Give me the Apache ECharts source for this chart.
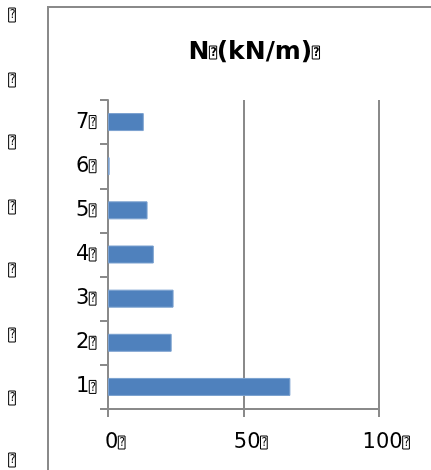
<!DOCTYPE html>
<html>
<head>
<meta charset="utf-8">
<script src="https://cdn.jsdelivr.net/npm/echarts@6/dist/echarts.min.js"></script>
<style>
  html, body { margin: 0; padding: 0; background: #fff; }
  #main { width: 431px; height: 470px; }
</style>
</head>
<body>
<div id="main"></div>
<script>
// data
var categories = ['1', '2', '3', '4', '5', '6', '7'];
var values = [67.3, 23.5, 24.2, 16.9, 14.6, 0.6, 13.2];
var xTicks = [0, 50, 100];
var boxRows = [15, 80, 142, 207, 270, 335, 398, 460];

var myChart = echarts.init(document.getElementById('main'));
var gray = '#8a8a8a';
var font = 'DejaVu Sans';
var qBox = {
    fontSize: 12,
    lineHeight: 13,
    fontFamily: 'DejaVu Sans Condensed',
    color: '#000',
    borderColor: '#000',
    borderWidth: 1,
    padding: [1, 0, 0, 1],
    verticalAlign: 'middle'
};

var graphics = [{
    type: 'rect',
    shape: { x: 48, y: 7, width: 500, height: 500 },
    style: { fill: 'none', stroke: gray, lineWidth: 2 },
    z: 0
}];
boxRows.forEach(function (y) {
    graphics.push({
        type: 'text',
        x: 12,
        y: y,
        style: {
            text: '?',
            font: '12px DejaVu Sans Condensed',
            lineHeight: 13,
            fill: '#000',
            align: 'center',
            verticalAlign: 'middle',
            borderColor: '#000',
            borderWidth: 1,
            padding: [1, 0, 0, 1]
        }
    });
});

var option = {
    backgroundColor: '#fff',
    title: {
        text: '{t|N}{q|?}{t|(kN/m)}{q|?}',
        left: 249,
        top: 35,
        textAlign: 'center',
        textStyle: {
            rich: {
                t: { fontSize: 25, fontWeight: 'bold', fontFamily: font, color: '#000' },
                q: qBox
            }
        }
    },
    graphic: graphics,
    grid: { left: 108, top: 100, right: 52, bottom: 61 },
    xAxis: {
        type: 'value',
        min: xTicks[0],
        max: xTicks[xTicks.length - 1],
        interval: xTicks[1] - xTicks[0],
        axisLine: { show: true, lineStyle: { color: gray, width: 2 } },
        axisTick: { show: true, length: 8, lineStyle: { color: gray, width: 2 } },
        splitLine: { show: true, lineStyle: { color: gray, width: 2 } },
        axisLabel: {
            margin: 23,
            padding: [0, 0, 0, 14],
            formatter: function (v) { return '{a|' + v + '}{q|?}'; },
            rich: {
                a: { fontSize: 21, fontFamily: font, color: '#000' },
                q: qBox
            }
        }
    },
    yAxis: {
        type: 'category',
        data: categories,
        axisLine: { show: true, lineStyle: { color: gray, width: 2 } },
        axisTick: { show: true, length: 8, lineStyle: { color: gray, width: 2 } },
        axisLabel: {
            margin: 12,
            formatter: function (v) { return '{a|' + v + '}{q|?}'; },
            rich: {
                a: { fontSize: 21, fontFamily: font, color: '#000' },
                q: qBox
            }
        }
    },
    series: [{
        type: 'bar',
        data: values,
        barWidth: 18,
        itemStyle: { color: '#4f81bd', borderColor: '#7aa0cf', borderWidth: 1 },
        animation: false
    }]
};
myChart.setOption(option);
window.addEventListener('resize', function () {
    myChart.resize();
});
</script>
</body>
</html>
